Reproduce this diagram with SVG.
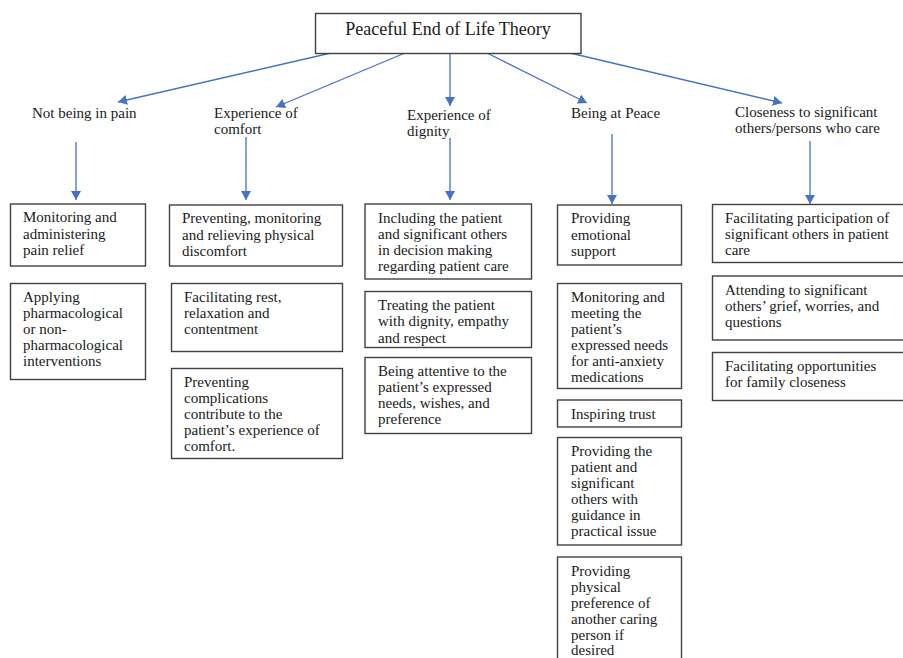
<svg xmlns="http://www.w3.org/2000/svg" width="903" height="658" viewBox="0 0 903 658">
<style>
  .bg { fill: #ffffff; }
  .box { fill: #ffffff; stroke: #404040; stroke-width: 1.4; }
  .t { font-family: "Liberation Serif", "Times New Roman", serif; font-size: 15px; fill: #1a1a1a; }
  .title { font-family: "Liberation Serif", "Times New Roman", serif; font-size: 18px; fill: #1a1a1a; }
  .conn { stroke: #4472C4; stroke-width: 1.3; fill: none; marker-end: url(#ah); }
</style>
<defs>
  <marker id="ah" markerUnits="userSpaceOnUse" markerWidth="10" markerHeight="10" refX="9" refY="5" orient="auto">
    <path d="M0,0 L9,5 L0,10 z" fill="#4472C4"/>
  </marker>
</defs>
<rect class="bg" x="0" y="0" width="903" height="658"/>

<g id="connectors">
  <line class="conn" x1="331" y1="53" x2="118" y2="102"/>
  <line class="conn" x1="405" y1="53" x2="276" y2="107"/>
  <line class="conn" x1="450" y1="53" x2="450" y2="106"/>
  <line class="conn" x1="487" y1="53" x2="587" y2="103"/>
  <line class="conn" x1="570" y1="53" x2="782" y2="103"/>
  <line class="conn" x1="76" y1="142" x2="76" y2="200"/>
  <line class="conn" x1="246" y1="137" x2="246" y2="200"/>
  <line class="conn" x1="450" y1="138" x2="450" y2="200"/>
  <line class="conn" x1="612" y1="134" x2="612" y2="204"/>
  <line class="conn" x1="810" y1="141" x2="810" y2="204"/>
</g>

<g id="title">
  <rect class="box" x="315.5" y="13.5" width="265.5" height="40"/>
  <text class="title" x="448" y="35" text-anchor="middle">Peaceful End of Life Theory</text>
</g>

<g id="l1-pain"><text class="t" x="32" y="117.5">Not being in pain</text></g>
<g id="l1-comfort"><text class="t" x="214" y="117.5">Experience of</text><text class="t" x="214" y="133.5">comfort</text></g>
<g id="l1-dignity"><text class="t" x="407" y="119.5">Experience of</text><text class="t" x="407" y="135.5">dignity</text></g>
<g id="l1-peace"><text class="t" x="571" y="117.5">Being at Peace</text></g>
<g id="l1-closeness"><text class="t" x="735" y="116.5">Closeness to significant</text><text class="t" x="735" y="132.5">others/persons who care</text></g>

<g id="a1">
  <rect class="box" x="10.5" y="204" width="135" height="62"/>
  <text class="t" x="23" y="222">Monitoring and</text>
  <text class="t" x="23" y="238.5">administering</text>
  <text class="t" x="23" y="255">pain relief</text>
</g>
<g id="a2">
  <rect class="box" x="10.5" y="283.5" width="135" height="96"/>
  <text class="t" x="23" y="302">Applying</text>
  <text class="t" x="23" y="318">pharmacological</text>
  <text class="t" x="23" y="334">or non-</text>
  <text class="t" x="23" y="350">pharmacological</text>
  <text class="t" x="23" y="366">interventions</text>
</g>

<g id="b1">
  <rect class="box" x="169.5" y="205" width="173" height="61"/>
  <text class="t" x="182" y="223">Preventing, monitoring</text>
  <text class="t" x="182" y="239.5">and relieving physical</text>
  <text class="t" x="182" y="256">discomfort</text>
</g>
<g id="b2">
  <rect class="box" x="171.5" y="283.5" width="171" height="68"/>
  <text class="t" x="184" y="302">Facilitating rest,</text>
  <text class="t" x="184" y="318">relaxation and</text>
  <text class="t" x="184" y="334">contentment</text>
</g>
<g id="b3">
  <rect class="box" x="171.5" y="368.5" width="171" height="90"/>
  <text class="t" x="184" y="387">Preventing</text>
  <text class="t" x="184" y="403">complications</text>
  <text class="t" x="184" y="419">contribute to the</text>
  <text class="t" x="184" y="435">patient’s experience of</text>
  <text class="t" x="184" y="451">comfort.</text>
</g>

<g id="c1">
  <rect class="box" x="365" y="204" width="166.5" height="75"/>
  <text class="t" x="378" y="223">Including the patient</text>
  <text class="t" x="378" y="239">and significant others</text>
  <text class="t" x="378" y="255">in decision making</text>
  <text class="t" x="378" y="271">regarding patient care</text>
</g>
<g id="c2">
  <rect class="box" x="365" y="291.5" width="166.5" height="56"/>
  <text class="t" x="378" y="310">Treating the patient</text>
  <text class="t" x="378" y="326">with dignity, empathy</text>
  <text class="t" x="378" y="343">and respect</text>
</g>
<g id="c3">
  <rect class="box" x="365" y="357.5" width="166.5" height="76"/>
  <text class="t" x="378" y="376">Being attentive to the</text>
  <text class="t" x="378" y="392">patient’s expressed</text>
  <text class="t" x="378" y="408">needs, wishes, and</text>
  <text class="t" x="378" y="424">preference</text>
</g>

<g id="d1">
  <rect class="box" x="557.5" y="205" width="124" height="60"/>
  <text class="t" x="571" y="223">Providing</text>
  <text class="t" x="571" y="239.5">emotional</text>
  <text class="t" x="571" y="256">support</text>
</g>
<g id="d2">
  <rect class="box" x="557.5" y="283.5" width="124" height="105"/>
  <text class="t" x="571" y="302">Monitoring and</text>
  <text class="t" x="571" y="318">meeting the</text>
  <text class="t" x="571" y="334">patient’s</text>
  <text class="t" x="571" y="350">expressed needs</text>
  <text class="t" x="571" y="366">for anti-anxiety</text>
  <text class="t" x="571" y="382">medications</text>
</g>
<g id="d3">
  <rect class="box" x="557.5" y="400" width="124" height="27"/>
  <text class="t" x="571" y="418.5">Inspiring trust</text>
</g>
<g id="d4">
  <rect class="box" x="557.5" y="437.5" width="124" height="107.5"/>
  <text class="t" x="571" y="456">Providing the</text>
  <text class="t" x="571" y="472">patient and</text>
  <text class="t" x="571" y="488">significant</text>
  <text class="t" x="571" y="504">others with</text>
  <text class="t" x="571" y="520">guidance in</text>
  <text class="t" x="571" y="536">practical issue</text>
</g>
<g id="d5">
  <rect class="box" x="557.5" y="557" width="124" height="110"/>
  <text class="t" x="571" y="575.5">Providing</text>
  <text class="t" x="571" y="591.5">physical</text>
  <text class="t" x="571" y="607.5">preference of</text>
  <text class="t" x="571" y="623.5">another caring</text>
  <text class="t" x="571" y="639.5">person if</text>
  <text class="t" x="571" y="655">desired</text>
</g>

<g id="e1">
  <rect class="box" x="712.5" y="204.5" width="200" height="58"/>
  <text class="t" x="725" y="223">Facilitating participation of</text>
  <text class="t" x="725" y="239">significant others in patient</text>
  <text class="t" x="725" y="255">care</text>
</g>
<g id="e2">
  <rect class="box" x="712.5" y="276" width="200" height="64"/>
  <text class="t" x="725" y="294.5">Attending to significant</text>
  <text class="t" x="725" y="310.5">others’ grief, worries, and</text>
  <text class="t" x="725" y="326.5">questions</text>
</g>
<g id="e3">
  <rect class="box" x="712.5" y="352.5" width="200" height="48"/>
  <text class="t" x="725" y="371">Facilitating opportunities</text>
  <text class="t" x="725" y="387">for family closeness</text>
</g>
</svg>
